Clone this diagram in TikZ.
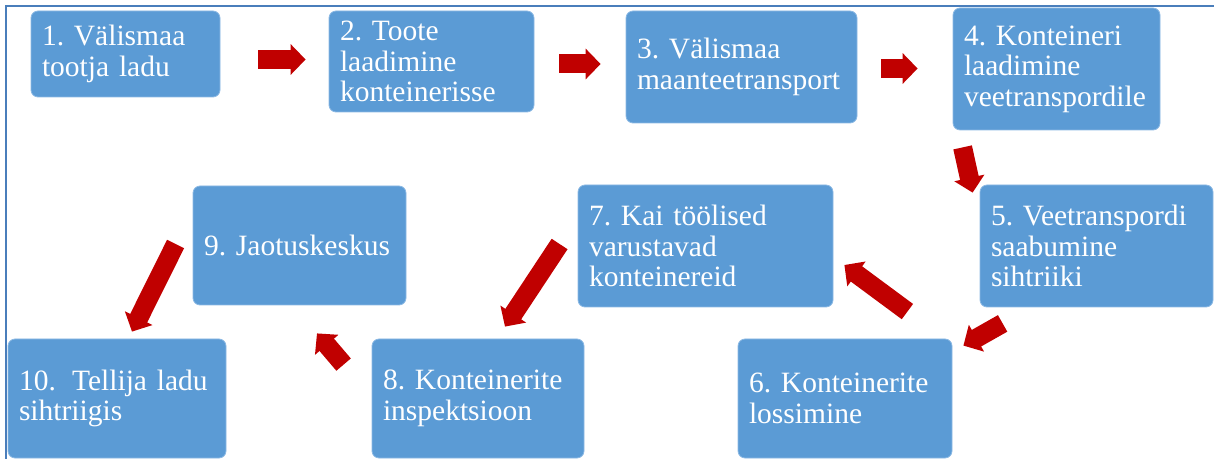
\documentclass[tikz,border=0pt]{standalone}
\usepackage{fontspec}
\setmainfont{Liberation Serif}
\usepackage{tikz}
\usetikzlibrary{
  arrows.meta,
  calc
}
\frenchspacing
\definecolor{BoxBlue}{RGB}{91,155,213}
\definecolor{BoxEdge}{RGB}{140,185,228}
\definecolor{ArrowRed}{RGB}{192,0,0}
\definecolor{FrameBlue}{RGB}{74,126,187}
\tikzset{
  stepbox/.style={draw=BoxEdge,line width=0.4pt,fill=BoxBlue,rounded corners=3.5pt,inner xsep=5.5pt,inner ysep=0pt,align=left,text=white,font=\rmfamily\fontsize{14.75}{15.25}\selectfont},
  flowarrow/.style={-{Triangle[length=7.5pt,width=15pt]},line width=9.5pt,draw=ArrowRed},
  frameline/.style={draw=FrameBlue,line width=0.75pt}
}
\begin{document}
\begin{tikzpicture}[x=0.5pt,y=-0.5pt]
\useasboundingbox (0,0) rectangle (1214,459);
\draw[frameline] (6,459) |- (1214,6);
% top row
\node[stepbox,text width=83.5pt,minimum height=43pt] (s1) at (125.5,54) {1. Välismaa\\tootja ladu};
\node[stepbox,text width=91.5pt,minimum height=50.5pt] (s2) at (431.5,61.5) {2. Toote\\laadimine\\konteinerisse};
\node[stepbox,text width=104.5pt,minimum height=56pt] (s3) at (741.5,67) {3. Välismaa\\maanteetransport};
\node[stepbox,text width=92.5pt,minimum height=61pt] (s4) at (1056.5,69) {4. Konteineri\\laadimine\\veetranspordile};
% middle row
\node[stepbox,text width=105.5pt,minimum height=61pt] (s5) at (1096.5,246) {5. Veetranspordi\\saabumine\\sihtriiki};
\node[stepbox,text width=116.5pt,minimum height=61pt] (s7) at (705.5,246) {7. Kai töölised\\varustavad\\konteinereid};
\node[stepbox,text width=95.5pt,minimum height=59.5pt] (s9) at (299.5,245.5) {9. Jaotuskeskus};
% bottom row
\node[stepbox,text width=96pt,minimum height=59.5pt] (s6) at (845,398.5) {6. Konteinerite\\lossimine};
\node[stepbox,text width=95pt,minimum height=59.5pt] (s8) at (478,398.5) {8. Konteinerite\\inspektsioon};
\node[stepbox,text width=98pt,minimum height=59.5pt] (s10) at (117,398.5) {10.\hspace{0.55em}Tellija ladu\\sihtriigis};
% arrows
\draw[flowarrow] ($(s1.east)+(38,5.5)$) -- ($(s2.west)+(-23,-2)$);
\draw[flowarrow] ($(s2.east)+(25,2.5)$) -- ($(s3.west)+(-25,-3)$);
\draw[flowarrow] ($(s3.east)+(24,1.5)$) -- ($(s4.west)+(-35,-0.5)$);
\draw[flowarrow] ($(s4.south west)+(10,17)$) -- ($(s5.north west)+(-7,8)$);
\draw[flowarrow] ($(s5.south west)+(23,16)$) -- ($(s6.north east)+(11,7)$);
\draw[flowarrow] ($(s6.north east)+(-45,-27)$) -- ($(s7.east)+(11,19)$);
\draw[flowarrow] ($(s7.west)+(-18,-2)$) -- ($(s8.north)+(27,-12)$);
\draw[flowarrow] ($(s8.north west)+(-28,26)$) -- ($(s9.south)+(17.5,28)$);
\draw[flowarrow] ($(s9.west)+(-17,-1.5)$) -- ($(s10.north)+(15,-7)$);
\end{tikzpicture}
\end{document}
